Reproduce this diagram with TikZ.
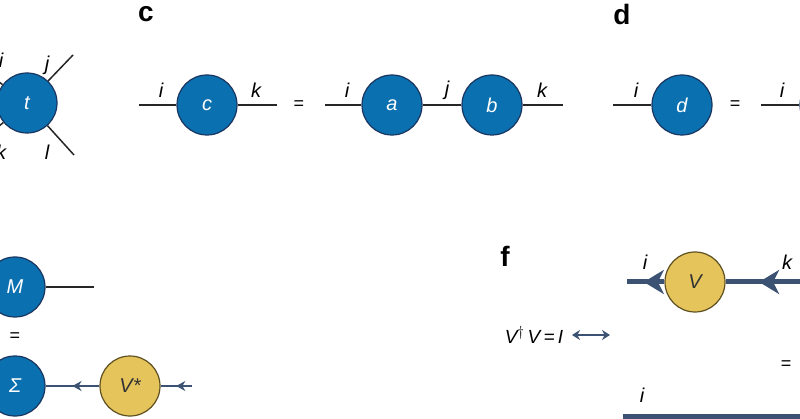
\documentclass[tikz,border=0pt]{standalone}
\usepackage{fontspec}
\setmainfont{Liberation Sans}
\usetikzlibrary{arrows.meta,decorations.markings}
\definecolor{tblue}{HTML}{0B70B0}
\definecolor{tnavy}{HTML}{1A3560}
\definecolor{tyellow}{HTML}{E6C45C}
\definecolor{tolive}{HTML}{5E5020}
\definecolor{tleg}{HTML}{3C5273}
\tikzset{
  tens/.style={circle, draw=tnavy, line width=1.2pt, fill=tblue, minimum size=60pt, inner sep=0pt, text=white, font=\fontsize{20}{24}\selectfont\itshape},
  unit/.style={circle, draw=tolive, line width=1.2pt, fill=tyellow, minimum size=60pt, inner sep=0pt, text=black!80, font=\fontsize{20}{24}\selectfont\itshape},
  idx/.style={font=\fontsize{20}{24}\selectfont\itshape},
  eqs/.style={font=\fontsize{18}{22}\selectfont},
  lbl/.style={font=\fontsize{28}{32}\selectfont\bfseries},
  leg/.style={line width=1.5pt, black!85},
  aleg/.style={line width=1.6pt, tleg, postaction={decorate}, decoration={markings, mark=at position 0.5 with {\arrow{Stealth[length=9pt,width=10pt]}}}},
  fleg/.style={line width=5pt, tleg},
  farrow/.style={fleg, postaction={decorate}, decoration={markings, mark=at position 0.55 with {\arrow{Stealth[length=20pt,width=24pt,inset=6pt]}}}},
}
\begin{document}
\begin{tikzpicture}[x=1pt,y=-1pt]
\useasboundingbox (0,0) rectangle (800,419);
% panel b
\node[tens] (t) at (27,103) {t};
\coordinate (tj) at (73,55);
\coordinate (tl) at (74,155);
\coordinate (ti) at (-30,60);
\coordinate (tk) at (-30,150);
\draw[leg] (t) -- (tj);
\draw[leg] (t) -- (tl);
\draw[leg] (t) -- (ti);
\draw[leg] (t) -- (tk);
\node[idx] (lj) at (47,65) {j};
\node[idx] (ll) at (47,152) {l};
\node[idx] (li) at (1,60) {i};
\node[idx] (lk) at (1,152) {k};

% panel c
\node[lbl] (pc) at (146,14) {c};
\node[tens] (c) at (207,105) {c};
\coordinate (c0) at (139,105);
\coordinate (c1) at (277,105);
\draw[leg] (c0) -- (c) -- (c1);
\node[idx] (ci) at (161,90) {i};
\node[idx] (ck) at (256,90) {k};
\node[eqs] (eq1) at (299,105) {=};
\node[tens] (a) at (392,105) {a};
\node[tens] (b) at (492,105) {b};
\coordinate (a0) at (325,105);
\coordinate (b1) at (563,105);
\draw[leg] (a0) -- (a) -- (b) -- (b1);
\node[idx] (ai) at (347,90) {i};
\node[idx] (aj) at (447,90) {j};
\node[idx] (bk) at (542,90) {k};

% panel d
\node[lbl] (pd) at (622,14) {d};
\node[tens] (d) at (682,105) {d};
\coordinate (d0) at (613,105);
\draw[leg] (d0) -- (d);
\node[idx] (di) at (636,90) {i};
\node[eqs] (eq2) at (735,105) {=};
\node[tens] (d2) at (830,105) {};
\coordinate (d3) at (761,105);
\draw[leg] (d3) -- (d2);
\node[idx] (d2i) at (782,90) {i};

% panel e
\node[tens] (m) at (15,287) {M};
\coordinate (m1) at (94,287);
\draw[leg] (m) -- (m1);
\node[eqs] (eq3) at (15,337) {=};
\node[tens] (s) at (15,386) {Σ};
\node[unit] (vs) at (130,386) {V*};
\coordinate (vs1) at (192,386);
\draw[aleg] (vs) -- (s);
\draw[aleg] (vs1) -- (vs);

% panel f
\node[lbl] (pf) at (505,256) {f};
\node[unit] (v) at (695,282) {V};
\coordinate (v0) at (627,282);
\coordinate (v1) at (800,282);
\draw[farrow] (v) -- (v0);
\draw[farrow] (v1) -- (v);
\node[idx] (vi) at (645,262) {i};
\node[idx] (vk) at (787,262) {k};
\node[font=\fontsize{19}{22}\selectfont\itshape] (rel) at (534,335) {V$^{\dagger}$\,V\,=\,I};
\coordinate (r0) at (572,335);
\coordinate (r1) at (610,335);
\draw[{Stealth[length=8pt,width=10pt]}-{Stealth[length=8pt,width=10pt]}, line width=2pt, tleg] (r0) -- (r1);
\node[eqs] (eq4) at (786,365) {=};
\node[idx] (bi) at (642,395) {i};
\coordinate (bar0) at (623,416);
\coordinate (bar1) at (800,416);
\draw[fleg] (bar0) -- (bar1);
\end{tikzpicture}
\end{document}
